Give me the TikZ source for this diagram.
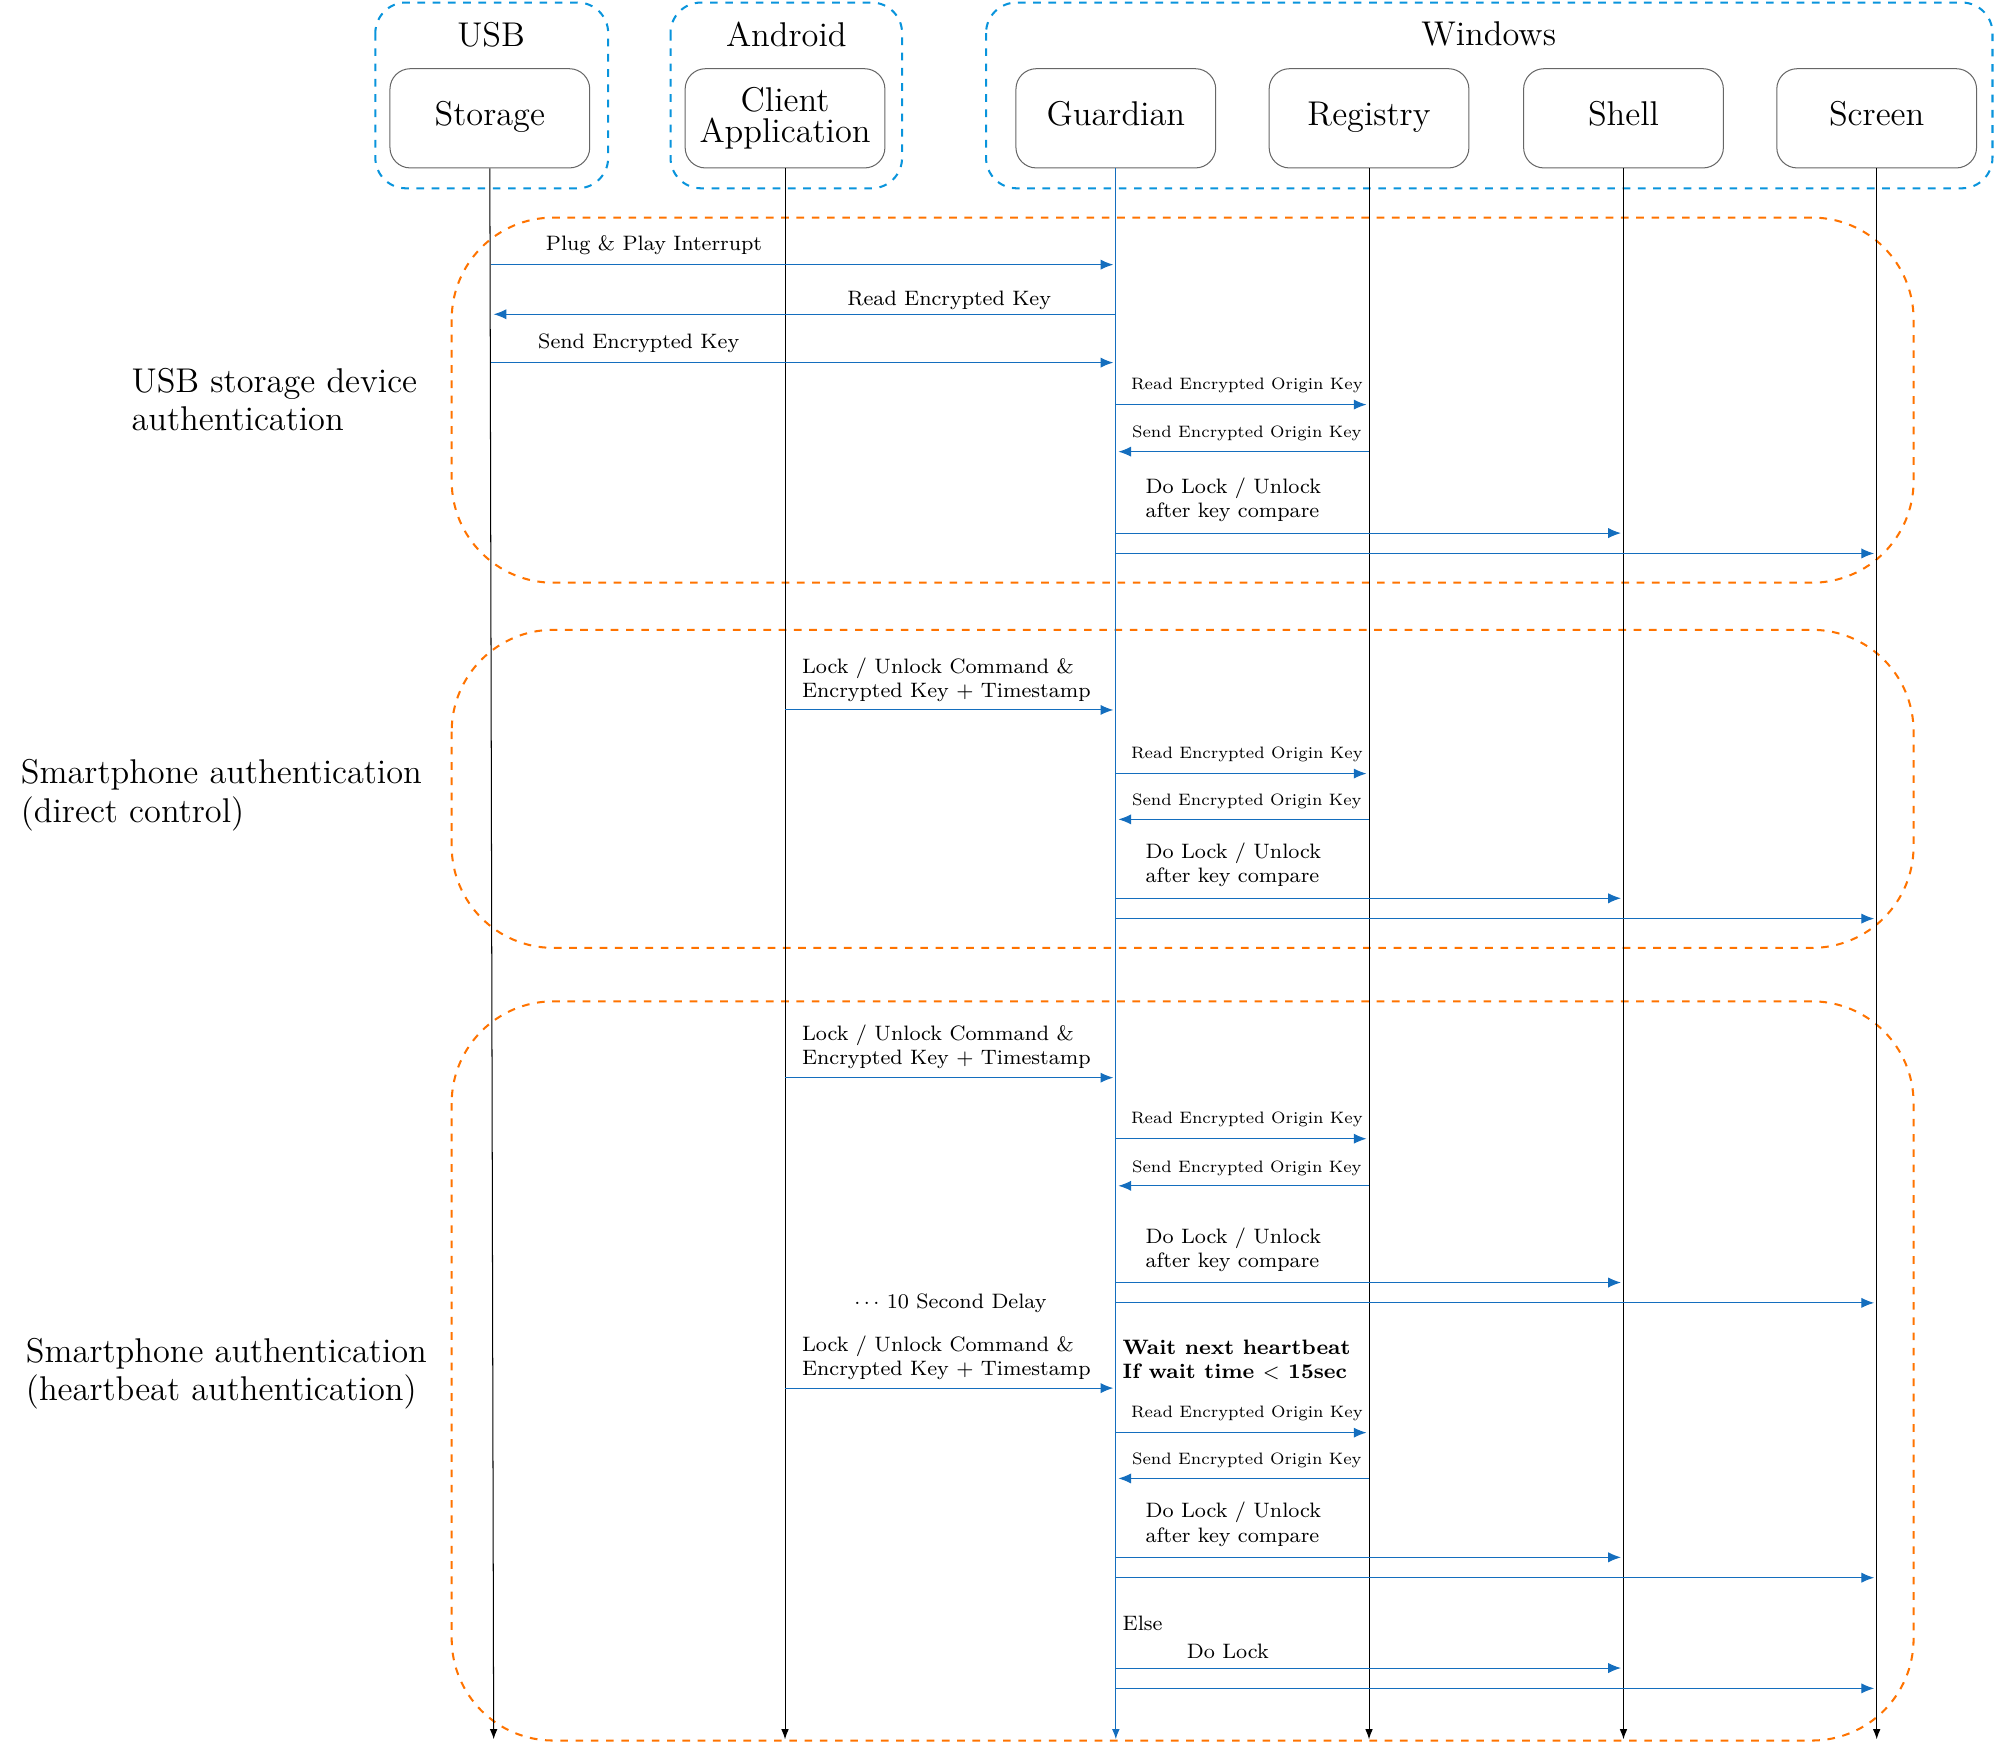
\documentclass[tikz,border=0pt]{standalone}
\usetikzlibrary{arrows.meta}
\definecolor{arr}{RGB}{20,110,190}
\begin{document}
\begin{tikzpicture}[x=0.5pt,y=-0.5pt,
  grp/.style={draw=cyan!80!blue,dashed,rounded corners=12,thick},
  sec/.style={draw=orange!90!red,dashed,rounded corners=40,thick},
  actor/.style={draw=gray!80!black,rounded corners=8,minimum width=78.5pt,minimum height=39pt,font=\fontsize{13.5}{14}\selectfont,align=center,inner sep=1pt},
  life/.style={-{Latex[length=4pt,width=3pt]}},
  msg/.style={draw=arr,-{Latex[length=5pt,width=4pt]}},
  lab/.style={font=\fontsize{8.2}{9.5}\selectfont,inner sep=0pt},
  tiny/.style={font=\fontsize{6.5}{8}\selectfont,inner sep=0pt},
  seclab/.style={font=\fontsize{13.5}{15}\selectfont,align=left,anchor=west,inner sep=0pt}]
\useasboundingbox (0,0) rectangle (1568,1375);
% groups
\draw[grp] (295,2) rectangle (478,148);
\draw[grp] (527,2) rectangle (709,148);
\draw[grp] (775,2) rectangle (1566,148);
\node[font=\fontsize{13.5}{14}\selectfont] at (386,27) {USB};
\node[font=\fontsize{13.5}{14}\selectfont] at (618,27) {Android};
\node[font=\fontsize{13.5}{14}\selectfont] at (1170,27) {Windows};
% sections
\draw[sec] (355,171) rectangle (1504,458);
\draw[sec] (355,495) rectangle (1504,745);
\draw[sec] (355,787) rectangle (1504,1368);
% actors
\node[actor] (st) at (385,93) {\strut Storage};
\node[actor] (ca) at (617,93) {Client\\[-2pt]Application};
\node[actor] (gu) at (877,93) {\strut Guardian};
\node[actor] (re) at (1076,93) {\strut Registry};
\node[actor] (sh) at (1276,93) {\strut Shell};
\node[actor] (sc) at (1475,93) {\strut Screen};
% lifelines
\coordinate (stE) at (388,1367); \coordinate (caE) at (617,1367);
\coordinate (guE) at (877,1367); \coordinate (reE) at (1076,1367);
\coordinate (shE) at (1276,1367); \coordinate (scE) at (1475,1367);
\draw[life] (st.south) -- (stE);
\draw[life] (ca.south) -- (caE);
\draw[life,draw=arr] (gu.south) -- (guE);
\draw[life] (re.south) -- (reE);
\draw[life] (sh.south) -- (shE);
\draw[life] (sc.south) -- (scE);
% section labels
\node[seclab] at (103,314) {USB storage device\\authentication};
\node[seclab] at (16,625) {Smartphone authentication\\(direct control)};
\node[seclab] at (20,1080) {Smartphone authentication\\(heartbeat authentication)};
% macros for messages
\newcommand{\gr}[2]{%
  \draw[msg] (877,#1) -- (1074,#1);
  \node[tiny] at (980,#1-15) {Read Encrypted Origin Key};
  \draw[msg] (1076,#2) -- (879,#2);
  \node[tiny] at (980,#2-14) {Send Encrypted Origin Key};}
\newcommand{\lk}[2]{%
  \draw[msg] (877,#1) -- (1274,#1);
  \node[lab,anchor=west,align=left] at (900,#1-26) {Do Lock / Unlock\\after key compare};
  \draw[msg] (877,#2) -- (1473,#2);}
\newcommand{\cmd}[1]{%
  \draw[msg] (617,#1) -- (875,#1);
  \node[lab,anchor=west,align=left] at (630,#1-24) {Lock / Unlock Command \&\\Encrypted Key + Timestamp};}
% section 1
\draw[msg] (386,208) -- (875,208); \node[lab] at (514,193) {Plug \& Play Interrupt};
\draw[msg] (877,247) -- (388,247); \node[lab] at (746,236) {Read Encrypted Key};
\draw[msg] (386,285) -- (875,285); \node[lab] at (502,270) {Send Encrypted Key};
\gr{318}{355}
\lk{419}{435}
% section 2
\cmd{558}
\gr{608}{644}
\lk{706}{722}
% section 3
\cmd{847}
\gr{895}{932}
\lk{1008}{1024}
\node[lab] at (747,1024) {$\cdots$ 10 Second Delay};
\cmd{1091}
\node[lab,anchor=west,align=left,font=\fontsize{8.2}{9.5}\selectfont\bfseries] at (882,1069) {Wait next heartbeat\\If wait time $<$ 15sec};
\gr{1126}{1162}
\lk{1224}{1240}
\node[lab,anchor=west] at (882,1276) {Else};
\node[lab] at (965,1298) {Do Lock};
\draw[msg] (877,1311) -- (1274,1311);
\draw[msg] (877,1327) -- (1473,1327);
\end{tikzpicture}
\end{document}
